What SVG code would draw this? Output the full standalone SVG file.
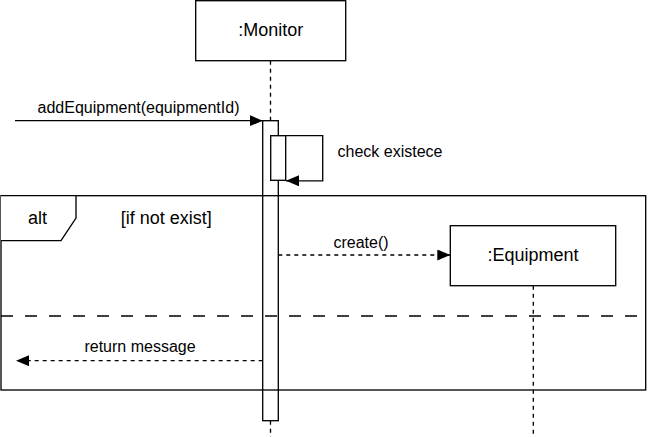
<svg xmlns="http://www.w3.org/2000/svg" width="648" height="437" viewBox="0 0 648 437">
<style>
.box{fill:#fff;stroke:#000;stroke-width:1.33}
.ll{fill:none;stroke:#000;stroke-width:1.33;stroke-dasharray:4 4}
.msg{fill:none;stroke:#000;stroke-width:1.33}
.dmsg{fill:none;stroke:#000;stroke-width:1.33;stroke-dasharray:4 4}
.sep{fill:none;stroke:#000;stroke-width:1.33;stroke-dasharray:12 12}
.t{font-family:"Liberation Sans",Arial,sans-serif;font-size:16px;fill:#000}
.tl{font-family:"Liberation Sans",Arial,sans-serif;font-size:18px;fill:#000}
</style>
<defs>
<marker id="ah" markerUnits="userSpaceOnUse" markerWidth="14" markerHeight="12" refX="13" refY="5.5" orient="auto">
<path d="M0,0 L13,5.5 L0,11 Z" fill="#000"/>
</marker>
</defs>
<rect width="648" height="437" fill="#fff"/>

<g id="monitor">
<rect class="box" x="195.7" y="0.7" width="150" height="60"/>
<text class="tl" x="270.7" y="36" text-anchor="middle">:Monitor</text>
<line class="ll" x1="270.5" y1="60.7" x2="270.5" y2="120.7"/>
<line class="ll" x1="270.5" y1="420.7" x2="270.5" y2="437"/>
<rect class="box" x="262.7" y="120.7" width="15.6" height="300"/>
<rect class="box" x="270.7" y="135.7" width="15" height="44.6"/>
</g>

<g id="alt-frame">
<rect x="1" y="195.7" width="644.7" height="194.3" fill="none" stroke="#000" stroke-width="1.33"/>
<path d="M1,195.7 H76 V218 L61,240.7 H1" fill="#fff" stroke="#000" stroke-width="1.33"/>
<text class="tl" x="37.5" y="224" text-anchor="middle">alt</text>
<text class="tl" x="120.7" y="224">[if not exist]</text>
<line class="sep" x1="1" y1="316" x2="645.7" y2="316"/>
</g>

<g id="equipment">
<line class="ll" x1="533.3" y1="285.7" x2="533.3" y2="437"/>
<rect class="box" x="450.3" y="225.7" width="165.4" height="60"/>
<text class="tl" x="533" y="261" text-anchor="middle">:Equipment</text>
</g>

<g id="connectors">
<line class="msg" x1="15" y1="120.7" x2="262.7" y2="120.7" marker-end="url(#ah)"/>
<text class="t" x="138.5" y="112.5" text-anchor="middle">addEquipment(equipmentId)</text>
<path class="msg" d="M285.7,135.7 H322.7 V180.8 H286" marker-end="url(#ah)"/>
<text class="t" x="337.5" y="157">check existece</text>
<line class="dmsg" x1="278.3" y1="255" x2="450.3" y2="255" marker-end="url(#ah)"/>
<text class="t" x="361" y="248" text-anchor="middle">create()</text>
<line class="dmsg" x1="262.7" y1="360.7" x2="16" y2="360.7" marker-end="url(#ah)"/>
<text class="t" x="140" y="352" text-anchor="middle">return message</text>
</g>
</svg>
